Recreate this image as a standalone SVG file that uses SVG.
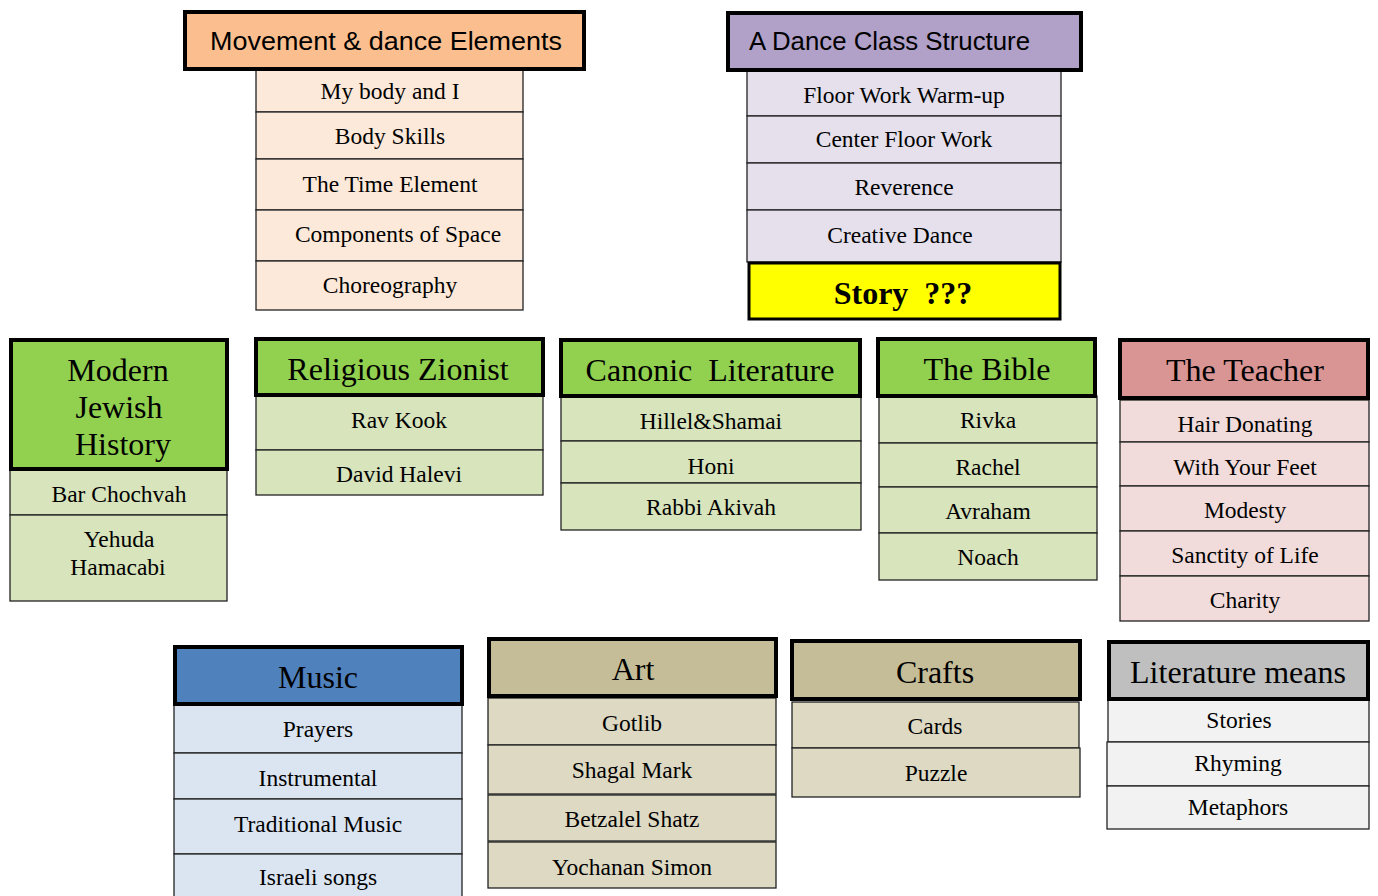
<svg xmlns="http://www.w3.org/2000/svg" width="1378" height="896" viewBox="0 0 1378 896">
<style>
.hd{stroke:#000;stroke-width:4}
.it{stroke:#222;stroke-width:1.3}
.ts{font-family:"Liberation Sans",Arial,sans-serif;font-size:26px;fill:#000}
.tt{font-family:"Liberation Serif","Times New Roman",serif;font-size:23.5px;fill:#000;text-anchor:middle}
.th{font-family:"Liberation Serif","Times New Roman",serif;font-size:32px;fill:#000;text-anchor:middle}
.or{fill:#FBBF8F}.orl{fill:#FDE9D9}
.pu{fill:#B1A0C7}.pul{fill:#E5E0EC}
.gr{fill:#92D050}.grl{fill:#D8E4BC}
.rd{fill:#D99594}.rdl{fill:#F2DCDB}
.bl{fill:#4F81BD}.bll{fill:#DBE5F1}
.ta{fill:#C4BD97}.tal{fill:#DDD9C3}
.gy{fill:#BFBFBF}.gyl{fill:#F2F2F2}
</style>
<rect width="1378" height="896" fill="#fff"/>
<g id="connectors"/>

<g id="movement">
<rect class="it orl" x="256" y="69" width="267" height="43"/>
<rect class="it orl" x="256" y="112" width="267" height="47"/>
<rect class="it orl" x="256" y="159" width="267" height="51"/>
<rect class="it orl" x="256" y="210" width="267" height="51"/>
<rect class="it orl" x="256" y="261" width="267" height="49"/>
<rect class="hd or" x="185" y="12" width="399" height="57"/>
<text class="ts" x="210" y="50" textLength="352" lengthAdjust="spacingAndGlyphs">Movement &amp; dance Elements</text>
<text class="tt" x="390" y="99">My body and I</text>
<text class="tt" x="390" y="144">Body Skills</text>
<text class="tt" x="390" y="192">The Time Element</text>
<text class="tt" x="398" y="242">Components of Space</text>
<text class="tt" x="390" y="293">Choreography</text>
</g>

<g id="danceclass">
<rect class="it pul" x="747" y="70" width="314" height="46"/>
<rect class="it pul" x="747" y="116" width="314" height="47"/>
<rect class="it pul" x="747" y="163" width="314" height="47"/>
<rect class="it pul" x="747" y="210" width="314" height="52"/>
<rect class="hd pu" x="728" y="13" width="353" height="57"/>
<text class="ts" x="749" y="50" textLength="281" lengthAdjust="spacingAndGlyphs">A Dance Class Structure</text>
<text class="tt" x="904" y="103">Floor Work Warm-up</text>
<text class="tt" x="904" y="147">Center Floor Work</text>
<text class="tt" x="904" y="195">Reverence</text>
<text class="tt" x="900" y="243">Creative Dance</text>
<rect x="749" y="263" width="311" height="56" fill="#FFFF00" stroke="#000" stroke-width="3"/>
<text x="903" y="304" font-family="'Liberation Serif','Times New Roman',serif" font-size="32" font-weight="bold" text-anchor="middle" xml:space="preserve">Story  ???</text>
</g>

<g id="modernhistory">
<rect class="it grl" x="10" y="469" width="217" height="46"/>
<rect class="it grl" x="10" y="515" width="217" height="86"/>
<rect class="hd gr" x="11" y="340" width="216" height="129"/>
<text class="th" x="118" y="381">Modern</text>
<text class="th" x="119" y="418">Jewish</text>
<text class="th" x="123" y="455">History</text>
<text class="tt" x="119" y="502">Bar Chochvah</text>
<text class="tt" x="119" y="547">Yehuda</text>
<text class="tt" x="118" y="575">Hamacabi</text>
</g>

<g id="religiouszionist">
<rect class="it grl" x="256" y="395" width="287" height="55"/>
<rect class="it grl" x="256" y="450" width="287" height="45"/>
<rect class="hd gr" x="256" y="339" width="287" height="56"/>
<text class="th" x="398" y="380">Religious Zionist</text>
<text class="tt" x="399" y="428">Rav Kook</text>
<text class="tt" x="399" y="482">David Halevi</text>
</g>

<g id="canonic">
<rect class="it grl" x="561" y="396" width="300" height="45"/>
<rect class="it grl" x="561" y="441" width="300" height="42"/>
<rect class="it grl" x="561" y="483" width="300" height="47"/>
<rect class="hd gr" x="561" y="340" width="299" height="56"/>
<text class="th" x="710" y="381" xml:space="preserve">Canonic  Literature</text>
<text class="tt" x="711" y="429">Hillel&amp;Shamai</text>
<text class="tt" x="711" y="474">Honi</text>
<text class="tt" x="711" y="515">Rabbi Akivah</text>
</g>

<g id="bible">
<rect class="it grl" x="879" y="396" width="218" height="47"/>
<rect class="it grl" x="879" y="443" width="218" height="44"/>
<rect class="it grl" x="879" y="487" width="218" height="46"/>
<rect class="it grl" x="879" y="533" width="218" height="47"/>
<rect class="hd gr" x="878" y="339" width="217" height="57"/>
<text class="th" x="987" y="380">The Bible</text>
<text class="tt" x="988" y="428">Rivka</text>
<text class="tt" x="988" y="475">Rachel</text>
<text class="tt" x="988" y="519">Avraham</text>
<text class="tt" x="988" y="565">Noach</text>
</g>

<g id="teacher">
<rect class="it rdl" x="1120" y="400" width="249" height="42"/>
<rect class="it rdl" x="1120" y="442" width="249" height="44"/>
<rect class="it rdl" x="1120" y="486" width="249" height="45"/>
<rect class="it rdl" x="1120" y="531" width="249" height="45"/>
<rect class="it rdl" x="1120" y="576" width="249" height="45"/>
<rect class="hd rd" x="1120" y="340" width="248" height="58"/>
<text class="th" x="1245" y="381">The Teacher</text>
<text class="tt" x="1245" y="432">Hair Donating</text>
<text class="tt" x="1245" y="475">With Your Feet</text>
<text class="tt" x="1245" y="518">Modesty</text>
<text class="tt" x="1245" y="563">Sanctity of Life</text>
<text class="tt" x="1245" y="608">Charity</text>
</g>

<g id="music">
<rect class="it bll" x="174" y="704" width="288" height="49"/>
<rect class="it bll" x="174" y="753" width="288" height="46"/>
<rect class="it bll" x="174" y="799" width="288" height="55"/>
<rect class="it bll" x="174" y="854" width="288" height="44"/>
<rect class="hd bl" x="175" y="647" width="287" height="57"/>
<text class="th" x="318" y="688">Music</text>
<text class="tt" x="318" y="737">Prayers</text>
<text class="tt" x="318" y="786">Instrumental</text>
<text class="tt" x="318" y="832">Traditional Music</text>
<text class="tt" x="318" y="885">Israeli songs</text>
</g>

<g id="art">
<rect class="it tal" x="488" y="698" width="288" height="47"/>
<rect class="it tal" x="488" y="745" width="288" height="49"/>
<rect class="it tal" x="488" y="795" width="288" height="46"/>
<rect class="it tal" x="488" y="842" width="288" height="46"/>
<rect class="hd ta" x="489" y="639" width="287" height="57"/>
<text class="th" x="633" y="680">Art</text>
<text class="tt" x="632" y="731">Gotlib</text>
<text class="tt" x="632" y="778">Shagal Mark</text>
<text class="tt" x="632" y="827">Betzalel Shatz</text>
<text class="tt" x="632" y="875">Yochanan Simon</text>
</g>

<g id="crafts">
<rect class="it tal" x="792" y="702" width="287" height="46"/>
<rect class="it tal" x="792" y="748" width="288" height="49"/>
<rect class="hd ta" x="792" y="641" width="288" height="58"/>
<text class="th" x="935" y="683">Crafts</text>
<text class="tt" x="935" y="734">Cards</text>
<text class="tt" x="936" y="781">Puzzle</text>
</g>

<g id="literature">
<rect class="it gyl" x="1108" y="699" width="261" height="43"/>
<rect class="it gyl" x="1107" y="742" width="262" height="44"/>
<rect class="it gyl" x="1107" y="786" width="262" height="43"/>
<rect class="hd gy" x="1109" y="642" width="259" height="57"/>
<text class="th" x="1238" y="683">Literature means</text>
<text class="tt" x="1239" y="728">Stories</text>
<text class="tt" x="1238" y="771">Rhyming</text>
<text class="tt" x="1238" y="815">Metaphors</text>
</g>
</svg>
